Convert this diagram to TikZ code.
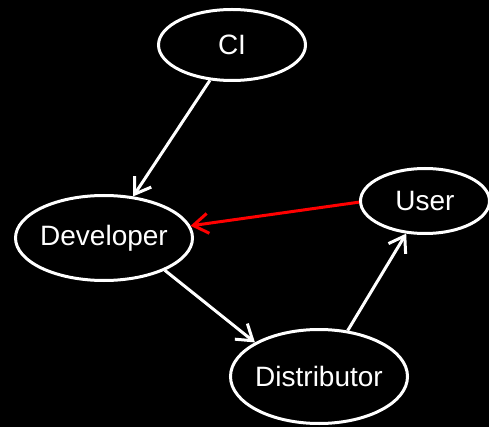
\documentclass[tikz,border=0pt]{standalone}
\usepackage{fontspec}
\setmainfont{Liberation Sans}
\usetikzlibrary{shapes.geometric,arrows.meta}
\begin{document}
\begin{tikzpicture}[x=1pt,y=-1pt,
  bubble/.style={ellipse,draw=white,fill=black,line width=3pt,inner sep=0pt},
  conn/.style={draw=white,line width=3pt,-{Straight Barb[length=15pt,width=20pt]}},
  redconn/.style={conn,draw=red},
  lbl/.style={text=white,font=\fontsize{28}{33}\selectfont}]
\fill[black] (0,0) rectangle (489,427);
\useasboundingbox (0,0) rectangle (489,427);
\node[bubble,minimum width=147pt,minimum height=71pt,label={[lbl]center:CI}] (ci) at (232,45) {};
\node[bubble,minimum width=177pt,minimum height=85pt,label={[lbl]center:Developer}] (dev) at (104,238) {};
\node[bubble,minimum width=129pt,minimum height=65pt,label={[lbl]center:User}] (user) at (425,201) {};
\node[bubble,minimum width=177pt,minimum height=94pt,label={[lbl]center:Distributor}] (dist) at (319,376.5) {};
\draw[conn] (ci.-122) -- (dev.55);
\draw[conn] (dev.-28) -- (dist.152);
\draw[conn] (dist.58) -- (user.240);
\draw[redconn] (user.181) -- (dev.8);
\end{tikzpicture}
\end{document}
